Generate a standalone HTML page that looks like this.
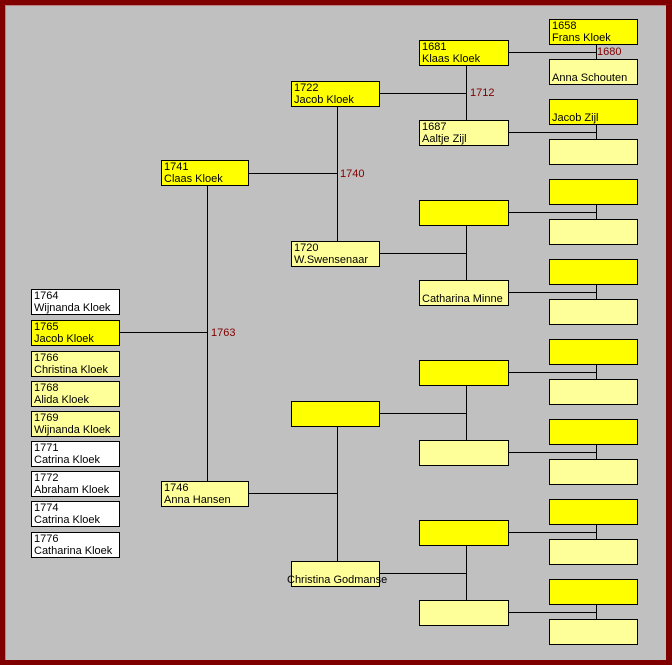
<!DOCTYPE html>
<html><head><meta charset="utf-8"><style>
html,body{margin:0;padding:0}
body{width:672px;height:665px;position:relative;overflow:hidden;background:#800000;font-family:"Liberation Sans",Arial,sans-serif}
#bg{position:absolute;left:5px;top:5px;width:661px;height:655px;background:#c0c0c0;border-top:1px solid #c08080;border-left:1px solid #c08080;box-sizing:border-box}
.b{position:absolute;box-sizing:border-box;border:1px solid #000;font-size:11px;line-height:12px;padding:0 0 0 2px;color:#000;white-space:nowrap;height:26px}
.y{background:#ffff00}.p{background:#ffff99}.w{background:#fff}
.c5{width:89px}.c4{width:90px}.c3{width:89px}.c2{width:88px}.c1{width:89px}
svg{position:absolute;left:0;top:0}
.l{position:absolute;font-size:11px;color:#800000;line-height:12px}
</style></head><body>
<div id="bg"></div>
<svg width="672" height="665">
<g stroke="#000" stroke-width="1" shape-rendering="crispEdges">
<!-- col5 pairs -->
<line x1="596.5" y1="44" x2="596.5" y2="59"/>
<line x1="596.5" y1="124" x2="596.5" y2="139"/>
<line x1="596.5" y1="204" x2="596.5" y2="219"/>
<line x1="596.5" y1="284" x2="596.5" y2="299"/>
<line x1="596.5" y1="364" x2="596.5" y2="379"/>
<line x1="596.5" y1="444" x2="596.5" y2="459"/>
<line x1="596.5" y1="524" x2="596.5" y2="539"/>
<line x1="596.5" y1="604" x2="596.5" y2="619"/>
<line x1="508" y1="52.5" x2="597" y2="52.5"/>
<line x1="508" y1="132.5" x2="597" y2="132.5"/>
<line x1="508" y1="212.5" x2="597" y2="212.5"/>
<line x1="508" y1="292.5" x2="597" y2="292.5"/>
<line x1="508" y1="372.5" x2="597" y2="372.5"/>
<line x1="508" y1="452.5" x2="597" y2="452.5"/>
<line x1="508" y1="532.5" x2="597" y2="532.5"/>
<line x1="508" y1="612.5" x2="597" y2="612.5"/>
<!-- col4 pairs -->
<line x1="466.5" y1="65" x2="466.5" y2="120"/>
<line x1="466.5" y1="225" x2="466.5" y2="280"/>
<line x1="466.5" y1="385" x2="466.5" y2="440"/>
<line x1="466.5" y1="545" x2="466.5" y2="600"/>
<line x1="379" y1="93.5" x2="467" y2="93.5"/>
<line x1="379" y1="253.5" x2="467" y2="253.5"/>
<line x1="379" y1="413.5" x2="467" y2="413.5"/>
<line x1="379" y1="573.5" x2="467" y2="573.5"/>
<!-- col3 pairs -->
<line x1="337.5" y1="106" x2="337.5" y2="241"/>
<line x1="337.5" y1="426" x2="337.5" y2="561"/>
<line x1="248" y1="173.5" x2="338" y2="173.5"/>
<line x1="248" y1="493.5" x2="338" y2="493.5"/>
<!-- col2 -->
<line x1="207.5" y1="185" x2="207.5" y2="481"/>
<line x1="119" y1="332.5" x2="208" y2="332.5"/>
</g></svg>
<div class="l" style="left:597px;top:46px">1680</div>
<div class="l" style="left:470px;top:87px">1712</div>
<div class="l" style="left:340px;top:168px">1740</div>
<div class="l" style="left:211px;top:327px">1763</div>

<div class="b y c5" style="left:549px;top:19px">1658<br>Frans Kloek</div>
<div class="b p c5" style="left:549px;top:59px"><br>Anna Schouten</div>
<div class="b y c5" style="left:549px;top:99px"><br>Jacob Zijl</div>
<div class="b p c5" style="left:549px;top:139px"></div>
<div class="b y c5" style="left:549px;top:179px"></div>
<div class="b p c5" style="left:549px;top:219px"></div>
<div class="b y c5" style="left:549px;top:259px"></div>
<div class="b p c5" style="left:549px;top:299px"></div>
<div class="b y c5" style="left:549px;top:339px"></div>
<div class="b p c5" style="left:549px;top:379px"></div>
<div class="b y c5" style="left:549px;top:419px"></div>
<div class="b p c5" style="left:549px;top:459px"></div>
<div class="b y c5" style="left:549px;top:499px"></div>
<div class="b p c5" style="left:549px;top:539px"></div>
<div class="b y c5" style="left:549px;top:579px"></div>
<div class="b p c5" style="left:549px;top:619px"></div>

<div class="b y c4" style="left:419px;top:40px">1681<br>Klaas Kloek</div>
<div class="b p c4" style="left:419px;top:120px">1687<br>Aaltje Zijl</div>
<div class="b y c4" style="left:419px;top:200px"></div>
<div class="b p c4" style="left:419px;top:280px"><br>Catharina Minne</div>
<div class="b y c4" style="left:419px;top:360px"></div>
<div class="b p c4" style="left:419px;top:440px"></div>
<div class="b y c4" style="left:419px;top:520px"></div>
<div class="b p c4" style="left:419px;top:600px"></div>

<div class="b y c3" style="left:291px;top:81px">1722<br>Jacob Kloek</div>
<div class="b p c3" style="left:291px;top:241px">1720<br>W.Swensenaar</div>
<div class="b y c3" style="left:291px;top:401px"></div>
<div class="b p c3" style="left:291px;top:561px;padding-left:0;overflow:visible"><br><span style="margin-left:-5px">Christina Godmanse</span></div>

<div class="b y c2" style="left:161px;top:160px">1741<br>Claas Kloek</div>
<div class="b p c2" style="left:161px;top:481px">1746<br>Anna Hansen</div>

<div class="b w c1" style="left:31px;top:289px">1764<br>Wijnanda Kloek</div>
<div class="b y c1" style="left:31px;top:320px">1765<br>Jacob Kloek</div>
<div class="b p c1" style="left:31px;top:351px">1766<br>Christina Kloek</div>
<div class="b p c1" style="left:31px;top:381px">1768<br>Alida Kloek</div>
<div class="b p c1" style="left:31px;top:411px">1769<br>Wijnanda Kloek</div>
<div class="b w c1" style="left:31px;top:441px">1771<br>Catrina Kloek</div>
<div class="b w c1" style="left:31px;top:471px">1772<br>Abraham Kloek</div>
<div class="b w c1" style="left:31px;top:501px">1774<br>Catrina Kloek</div>
<div class="b w c1" style="left:31px;top:532px">1776<br>Catharina Kloek</div>
</body></html>
